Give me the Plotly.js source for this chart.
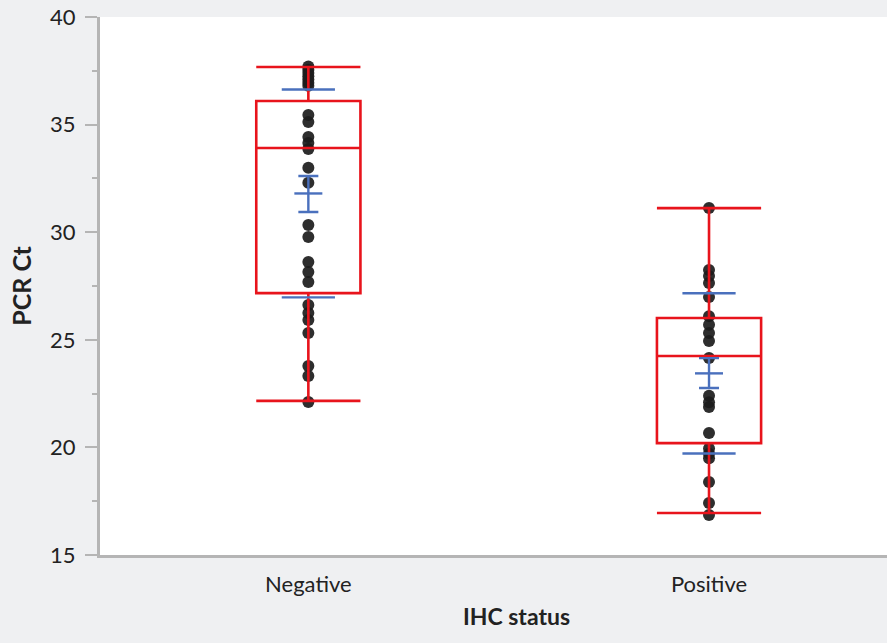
<!DOCTYPE html>
<html>
<head>
<meta charset="utf-8">
<script src="https://cdn.plot.ly/plotly-3.0.1.min.js"></script>
<style>
  html, body { margin: 0; padding: 0; background: #eff0f2; overflow: hidden; }
  #chart { width: 933px; height: 643px; }
</style>
</head>
<body>
<div id="chart"></div>
<script>
// ---- data ----
const categories = ['Negative', 'Positive'];
const negativeCt = [37.7, 37.55, 37.4, 37.25, 37.1, 36.95, 36.8, 35.45, 35.12, 34.42, 34.14, 33.87, 33.0, 32.3,
                    30.33, 29.78, 28.62, 28.15, 27.69, 26.62, 26.25, 25.92, 25.32, 23.78, 23.32, 22.11];
const positiveCt = [31.12, 28.24, 27.96, 27.64, 26.99, 26.1, 25.7, 25.32, 24.94, 24.15, 22.4, 22.1, 21.88,
                    20.67, 19.95, 19.7, 19.5, 18.39, 17.42, 16.86];
const q1 = [27.17, 20.2];
const median = [33.91, 24.25];
const q3 = [36.1, 26.01];
const lowerWhisker = [22.16, 16.95];
const upperWhisker = [37.68, 31.12];
const means = [31.8, 23.44];
const sds = [4.83, 3.72];
const ciLow = [30.94, 22.76];
const ciHigh = [32.61, 24.15];
const yTicks = [15, 20, 25, 30, 35, 40];

// ---- styles ----
const RED = '#e8141c';
const BLUE = '#4a70bd';
const DOT = '#1c1c1c';
const AXIS = '#b5b5b5';
const TEXT = '#222222';
const FONT = 'Lato, "Open Sans", sans-serif';

function pointsTrace(cat, vals) {
  return {
    type: 'box',
    x: vals.map(() => cat),
    y: vals,
    boxpoints: 'all',
    jitter: 0,
    pointpos: 0,
    width: 0.26,
    line: { color: 'rgba(0,0,0,0)', width: 0 },
    fillcolor: 'rgba(0,0,0,0)',
    marker: { color: DOT, size: 12, opacity: 0.92 },
    hoverinfo: 'y',
    showlegend: false
  };
}

const traces = [
  pointsTrace(categories[0], negativeCt),
  pointsTrace(categories[1], positiveCt),
  {
    type: 'box',
    x: categories,
    q1: q1,
    median: median,
    q3: q3,
    lowerfence: lowerWhisker,
    upperfence: upperWhisker,
    boxpoints: false,
    width: 0.26,
    whiskerwidth: 1,
    line: { color: RED, width: 2.6 },
    fillcolor: 'rgba(0,0,0,0)',
    showlegend: false
  },
  {
    type: 'scatter',
    mode: 'markers',
    x: categories,
    y: means,
    marker: { symbol: 'line-ew', size: 20, line: { color: BLUE, width: 2.4 } },
    error_y: {
      type: 'data', symmetric: false,
      array: ciHigh.map((v, i) => v - means[i]),
      arrayminus: ciLow.map((v, i) => means[i] - v),
      color: BLUE, thickness: 2.4, width: 10
    },
    showlegend: false
  },
  {
    type: 'scatter',
    mode: 'markers',
    x: categories.concat(categories),
    y: means.map((m, i) => m + sds[i]).concat(means.map((m, i) => m - sds[i])),
    marker: { symbol: 'line-ew', size: 38, line: { color: BLUE, width: 2.4 } },
    showlegend: false
  }
];

const layout = {
  width: 933,
  height: 643,
  paper_bgcolor: '#eff0f2',
  plot_bgcolor: '#ffffff',
  margin: { l: 100, r: 0, t: 17, b: 88 },
  boxmode: 'overlay',
  showlegend: false,
  font: { family: FONT, color: TEXT, size: 22 },
  xaxis: {
    type: 'category',
    categoryarray: categories,
    range: [-0.52, 1.559],
    showline: true, linecolor: AXIS, linewidth: 3,
    ticks: '',
    showgrid: false, zeroline: false,
    ticklabelstandoff: 8,
    tickfont: { family: FONT, size: 22, color: TEXT },
    title: { text: 'IHC status', font: { family: FONT, size: 23, color: TEXT, weight: 'bold' }, standoff: 13 }
  },
  xaxis2: {
    overlaying: 'x', anchor: 'y', side: 'bottom',
    type: 'linear',
    range: [-0.52, 1.559],
    tickmode: 'array', tickvals: [0.5],
    ticks: 'outside', ticklen: 12, tickwidth: 2, tickcolor: AXIS,
    showticklabels: false, showline: false, showgrid: false, zeroline: false
  },
  yaxis: {
    range: [15, 40],
    tickmode: 'array', tickvals: yTicks,
    ticks: 'outside', ticklen: 12, tickwidth: 2, tickcolor: AXIS,
    minor: { ticks: 'outside', ticklen: 5, tickwidth: 2, tickcolor: AXIS, dtick: 2.5, showgrid: false },
    showline: true, linecolor: AXIS, linewidth: 3,
    showgrid: false, zeroline: false,
    ticklabelstandoff: 5,
    tickfont: { family: FONT, size: 22, color: TEXT },
    title: { text: 'PCR Ct', font: { family: FONT, size: 25, color: TEXT, weight: 'bold' }, standoff: 12 }
  }
};

Plotly.newPlot('chart', traces, layout, { displayModeBar: false, staticPlot: true });
</script>
</body>
</html>
